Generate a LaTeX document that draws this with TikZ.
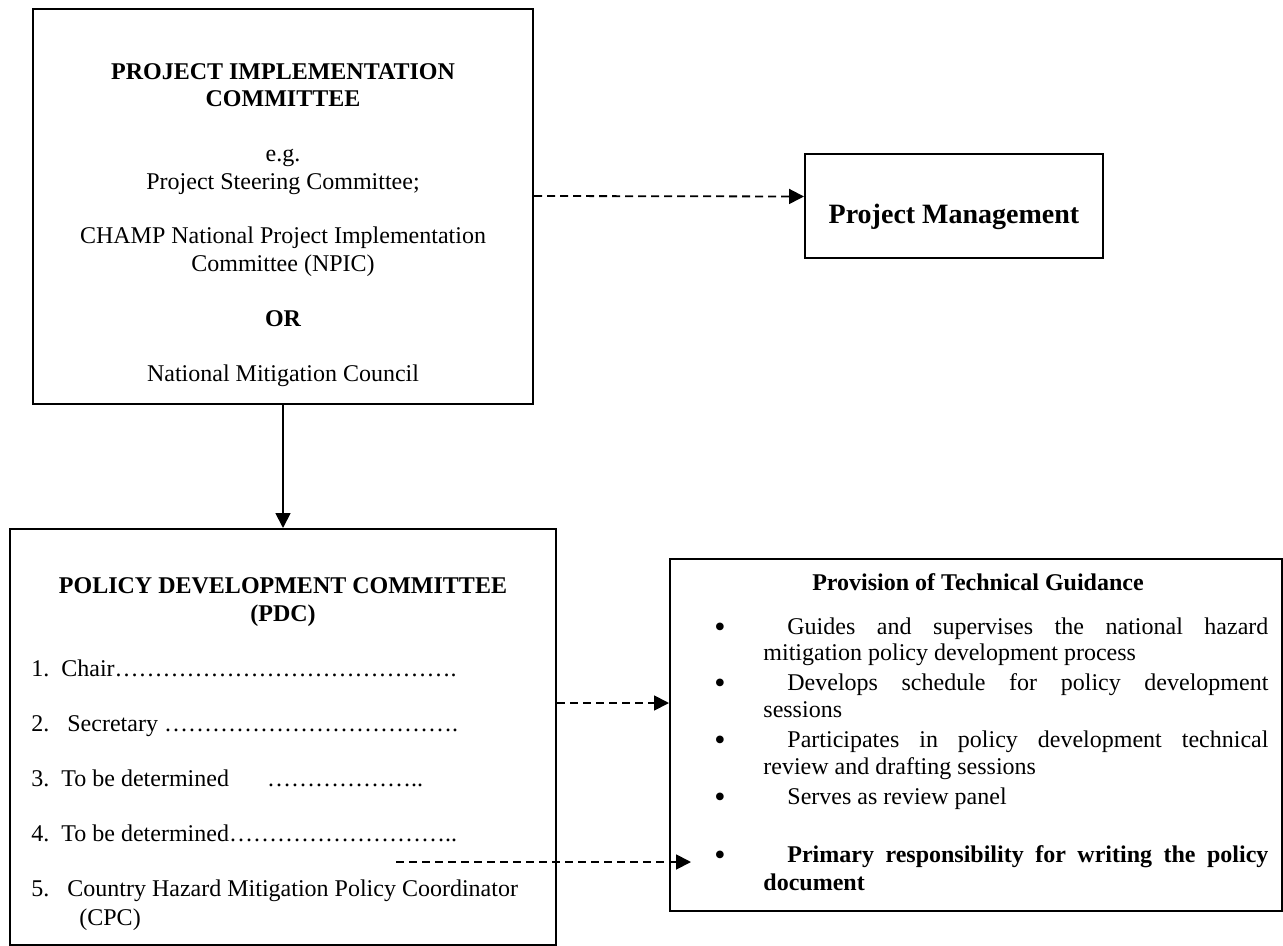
\documentclass[tikz,border=0pt]{standalone}
\usepackage{fontspec}
\setmainfont{Liberation Serif}
\usetikzlibrary{arrows.meta}
\newcommand\fullline[1]{\makebox[240.5pt][s]{#1}}
\newcommand\ellipsisrun[1]{\foreach \i in {1,...,#1}{…}}

\begin{document}
\begin{tikzpicture}
[x=0.5pt, y=-0.5pt,
  boxdecorate/.style={shape=rectangle,draw,line width=1pt,inner sep=0pt},
  textdecorate/.style={anchor=base,inner sep=0pt,font=\fontsize{12}{14}\selectfont},
  bulletdecorate/.style={anchor=base,inner sep=0pt,font=\fontsize{16}{16}\selectfont},
  linedecorate/.style={line width=0.9pt,-{Triangle[length=7.5pt,width=7.5pt]}},
  dashdecorate/.style={linedecorate,dash pattern=on 4pt off 2.5pt}]
\useasboundingbox (0,0) rectangle (1283,946);
%% boxes
\foreach \nodename/\x/\y/\w/\h in {pic/283/206.5/250/197.5, pm/954/206.5/149/52,
  pdc/283/737/273/208, tech/976/735/306/176}
{
  \node (\nodename) at (\x,\y) [boxdecorate,minimum width=\w pt,minimum height=\h pt] {};
}
%% top box
\foreach \nodename/\y/\txt in {pic1/80/{\bfseries PROJECT IMPLEMENTATION},
  pic2/107/{\bfseries COMMITTEE}, pic3/162/{e.g.}, pic4/190/{Project Steering Committee;},
  pic5/244/{CHAMP National Project Implementation}, pic6/272/{Committee (NPIC)},
  pic7/327/{\bfseries OR}, pic8/381/{National Mitigation Council}}
{
  \node (\nodename) at (283,\y) [textdecorate] {\txt};
}
\node (pmtext) at (954,224) [textdecorate,font=\fontsize{14}{16}\selectfont\bfseries] {Project Management};
%% committee box
\node (pdct1) at (283,593) [textdecorate,font=\fontsize{12}{14}\selectfont\bfseries] {POLICY DEVELOPMENT COMMITTEE};
\node (pdct2) at (283,621) [textdecorate,font=\fontsize{12}{14}\selectfont\bfseries] {(PDC)};
\foreach \n/\x/\y/\txt in {1/61/676/{Chair\ellipsisrun{14}.},
  2/67/731/{Secretary \ellipsisrun{12}.},
  3/61/786/{To be determined\hspace{19pt}\ellipsisrun{6}..},
  4/61/841/{To be determined\ellipsisrun{9}..},
  5/67/896/{Country Hazard Mitigation Policy Coordinator}}
{
  \node (num\n) at (31,\y) [textdecorate,anchor=base west] {\n.};
  \node (item\n) at (\x,\y) [textdecorate,anchor=base west] {\txt};
}
\node (itemcpc) at (79,925) [textdecorate,anchor=base west] {(CPC)};
%% guidance box
\node (tech0) at (978,590) [textdecorate,font=\fontsize{12}{14}\selectfont\bfseries] {Provision of Technical Guidance};
\foreach \y [count=\k] in {637,693,750,807,865}
{
  \node (bul\k) at (720,\y) [bulletdecorate] {\textbullet};
}
\foreach \nodename/\x/\y/\txt in {g1/787/634/{\fullline{Guides and supervises the national hazard}},
  g2/763/660/{mitigation policy development process},
  d1/787/690/{\fullline{Develops schedule for policy development}},
  d2/763/717/{sessions},
  p1/787/747/{\fullline{Participates in policy development technical}},
  p2/763/774/{review and drafting sessions},
  s1/787/804/{Serves as review panel},
  r1/787/862/{\bfseries\fullline{Primary responsibility for writing the policy}},
  r2/763/890/{\bfseries document}}
{
  \node (\nodename) at (\x,\y) [textdecorate,anchor=base west] {\txt};
}
%% connectors
\coordinate (cpcfrom) at (396,862);
\path ([yshift=5.25pt]pic.east) edge[dashdecorate] ([yshift=5pt]pm.west)
  (pic.south) edge[linedecorate] (pdc.north)
  ([yshift=17pt]pdc.east) edge[dashdecorate] ([yshift=16pt]tech.west)
  (cpcfrom) edge[dashdecorate] ([xshift=11pt]tech.west |- cpcfrom);
\end{tikzpicture}
\end{document}
